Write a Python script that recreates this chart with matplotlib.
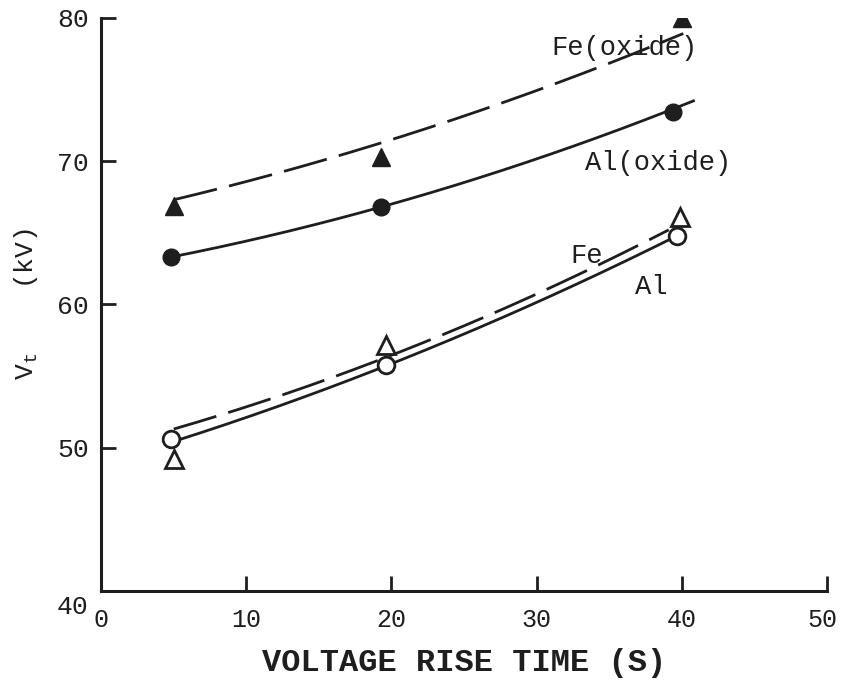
import numpy as np
import matplotlib
matplotlib.use('Agg')
import matplotlib.pyplot as plt
import matplotlib.transforms as mtransforms

plt.rcParams['font.family'] = ['Liberation Mono', 'DejaVu Sans']
plt.rcParams['mathtext.fontset'] = 'custom'
plt.rcParams['mathtext.rm'] = 'Liberation Mono'
plt.rcParams['mathtext.it'] = 'Liberation Mono'

# measured points (voltage rise time in s, Vt in kV)
fe_ox_x = [5.0, 19.3, 40.0]
fe_ox_y = [66.9, 70.3, 80.0]
al_ox_x = [4.8, 19.3, 39.4]
al_ox_y = [63.3, 66.8, 73.4]
fe_x = [5.0, 19.6, 39.9]
fe_y = [49.2, 57.2, 66.1]
al_x = [4.8, 19.6, 39.7]
al_y = [50.6, 55.8, 64.8]

# hand drawn trend curves
fe_ox_cx = [5.0, 19.7, 40.1]
fe_ox_cy = [67.3, 71.4, 78.9]
al_ox_cx = [4.8, 19.3, 40.8]
al_ox_cy = [63.3, 66.8, 74.2]
fe_cx = [5.0, 19.1, 39.1]
fe_cy = [51.3, 56.1, 65.2]
al_cx = [5.2, 19.6, 39.5]
al_cy = [50.5, 55.7, 64.7]

xticks = [0, 10, 20, 30, 40, 50]
yticks = [40, 50, 60, 70, 80]

fig = plt.figure(figsize=(8.43, 6.84), dpi=100)
ax = fig.add_axes([0.12, 0.136, 0.861, 0.838])


def trend(cx, cy, **kw):
    # smooth quadratic through the curve points
    c = np.polyfit(cx, cy, 2)
    xs = np.linspace(cx[0], cx[-1], 200)
    ax.plot(xs, np.polyval(c, xs), color='#1e1e1e', lw=2.0, zorder=2, **kw)


dash = (0, (16, 4.5))
trend(fe_ox_cx, fe_ox_cy, linestyle=dash)
trend(al_ox_cx, al_ox_cy)
trend(fe_cx, fe_cy, linestyle=dash)
trend(al_cx, al_cy)

ax.plot(fe_ox_x, fe_ox_y, '^', ms=13, color='#1e1e1e', ls='none', zorder=3)
ax.plot(al_ox_x, al_ox_y, 'o', ms=12, color='#1e1e1e', ls='none', zorder=3)
ax.plot(fe_x, fe_y, '^', ms=13, mfc='white', mec='#1e1e1e', mew=2, ls='none', zorder=3)
ax.plot(al_x, al_y, 'o', ms=12, mfc='white', mec='#1e1e1e', mew=2, ls='none', zorder=3)

# curve labels
ax.text(31.0, 77.9, 'Fe(oxide)', fontsize=19.5, va='center', ha='left', color='#1e1e1e')
ax.text(33.3, 69.9, 'Al(oxide)', fontsize=19.5, va='center', ha='left', color='#1e1e1e')
ax.text(32.3, 63.4, 'Fe', fontsize=19.5, va='center', ha='left', color='#1e1e1e')
ax.text(36.8, 61.2, 'Al', fontsize=19.5, va='center', ha='left', color='#1e1e1e')

ax.set_xlim(0, 50)
ax.set_ylim(40, 80)
ax.set_xticks(xticks)
ax.set_yticks(yticks)
ax.spines['top'].set_visible(False)
ax.spines['right'].set_visible(False)
for s in ['left', 'bottom']:
    ax.spines[s].set_linewidth(2.2)
    ax.spines[s].set_color('#1e1e1e')
ax.tick_params(direction='in', length=11, width=2, color='#1e1e1e',
               labelsize=19, labelcolor='#1e1e1e')
ax.tick_params(axis='x', pad=12, labelsize=18)
ax.tick_params(axis='y', pad=9)

# the "40" sits a bit below the origin in the original
fig.canvas.draw()
lab40 = ax.get_yticklabels()[0]
lab40.set_transform(lab40.get_transform() +
                    mtransforms.ScaledTranslation(0, -10 / 72, fig.dpi_scale_trans))
# keep the "50" inside the canvas
lab50 = ax.get_xticklabels()[-1]
lab50.set_transform(lab50.get_transform() +
                    mtransforms.ScaledTranslation(-3 / 72, 0, fig.dpi_scale_trans))

ax.set_xlabel('VOLTAGE RISE TIME (S)', fontsize=23, fontweight='bold',
              color='#1e1e1e', labelpad=12)
ax.set_ylabel(r'$\mathregular{V_t}$    (kV)', fontsize=19, color='#1e1e1e', labelpad=12)

fig.savefig('out.png', dpi=100)
